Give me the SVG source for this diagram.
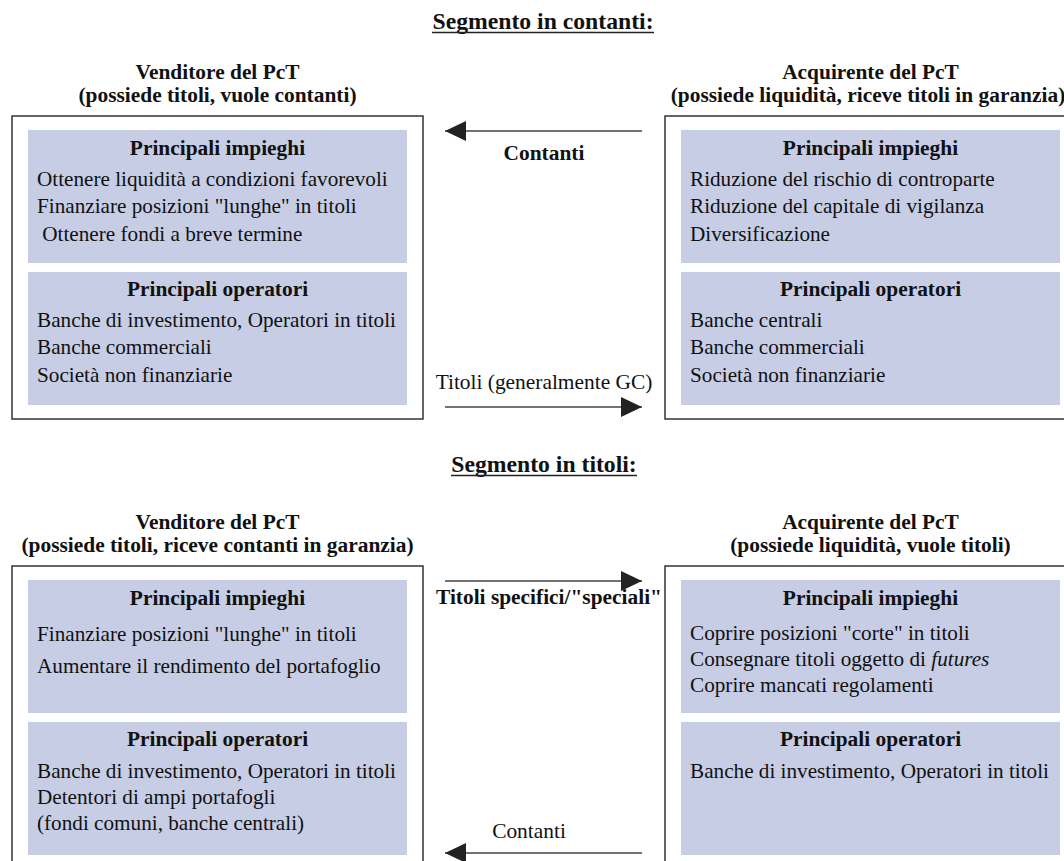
<svg xmlns="http://www.w3.org/2000/svg" width="1064" height="861" viewBox="0 0 1064 861">
  <style>
    text { font-family: "Liberation Serif", "Times New Roman", serif; fill: #111; }
    .title { font-size: 23.7px; font-weight: bold; text-anchor: middle; }
    .hdr { font-size: 21.4px; font-weight: bold; text-anchor: middle; }
    .body { font-size: 21.2px; }
    .lbl { font-size: 21.4px; text-anchor: middle; }
    .b { font-weight: bold; }
    .box { fill: #fff; stroke: #333; stroke-width: 1.5; }
    .panel { fill: #C6CDE5; }
    .rule { stroke: #222; stroke-width: 1.5; }
    .flow { stroke: #444; stroke-width: 1.5; fill: none; }
  </style>
  <defs>
    <marker id="head" markerUnits="userSpaceOnUse" markerWidth="22" markerHeight="20" refX="21" refY="10" orient="auto">
      <path d="M0,0 L21,10 L0,20 Z" fill="#222"/>
    </marker>
  </defs>
  <rect width="1064" height="861" fill="#fff"/>

  <!-- section titles -->
  <text class="title" x="543" y="29">Segmento in contanti:</text>
  <line class="rule" x1="432" y1="32.5" x2="654" y2="32.5"/>
  <text class="title" x="544" y="472">Segmento in titoli:</text>
  <line class="rule" x1="451" y1="475.5" x2="637" y2="475.5"/>

  <!-- cash segment: seller -->
  <g id="cash-seller">
    <text class="hdr" x="217.5" y="79">Venditore del PcT</text>
    <text class="hdr" x="217.5" y="102">(possiede titoli, vuole contanti)</text>
    <rect class="box" x="12" y="116" width="411" height="303"/>
    <rect class="panel" x="28" y="130" width="379" height="133"/>
    <text class="hdr" x="217.5" y="155">Principali impieghi</text>
    <text class="body" x="37" y="186">Ottenere liquidità a condizioni favorevoli</text>
    <text class="body" x="37" y="213">Finanziare posizioni "lunghe" in titoli</text>
    <text class="body" x="37" y="241" xml:space="preserve"> Ottenere fondi a breve termine</text>
    <rect class="panel" x="28" y="272" width="379" height="133"/>
    <text class="hdr" x="217.5" y="296">Principali operatori</text>
    <text class="body" x="37" y="327">Banche di investimento, Operatori in titoli</text>
    <text class="body" x="37" y="354">Banche commerciali</text>
    <text class="body" x="37" y="382">Società non finanziarie</text>
  </g>

  <!-- cash segment: buyer -->
  <g id="cash-buyer">
    <text class="hdr" x="870.5" y="79">Acquirente del PcT</text>
    <text class="hdr" x="868" y="102">(possiede liquidità, riceve titoli in garanzia)</text>
    <rect class="box" x="665" y="116" width="411" height="303"/>
    <rect class="panel" x="681" y="130" width="379" height="133"/>
    <text class="hdr" x="870.5" y="155">Principali impieghi</text>
    <text class="body" x="690" y="186">Riduzione del rischio di controparte</text>
    <text class="body" x="690" y="213">Riduzione del capitale di vigilanza</text>
    <text class="body" x="690" y="241">Diversificazione</text>
    <rect class="panel" x="681" y="272" width="379" height="133"/>
    <text class="hdr" x="870.5" y="296">Principali operatori</text>
    <text class="body" x="690" y="327">Banche centrali</text>
    <text class="body" x="690" y="354">Banche commerciali</text>
    <text class="body" x="690" y="382">Società non finanziarie</text>
  </g>

  <!-- securities segment: seller -->
  <g id="sec-seller">
    <text class="hdr" x="217.5" y="529">Venditore del PcT</text>
    <text class="hdr" x="217.5" y="552">(possiede titoli, riceve contanti in garanzia)</text>
    <rect class="box" x="12" y="566" width="411" height="303"/>
    <rect class="panel" x="28" y="580" width="379" height="133"/>
    <text class="hdr" x="217.5" y="605">Principali impieghi</text>
    <text class="body" x="37" y="641">Finanziare posizioni "lunghe" in titoli</text>
    <text class="body" x="37" y="673">Aumentare il rendimento del portafoglio</text>
    <rect class="panel" x="28" y="722" width="379" height="133"/>
    <text class="hdr" x="217.5" y="746">Principali operatori</text>
    <text class="body" x="37" y="778">Banche di investimento, Operatori in titoli</text>
    <text class="body" x="37" y="804">Detentori di ampi portafogli</text>
    <text class="body" x="37" y="830">(fondi comuni, banche centrali)</text>
  </g>

  <!-- securities segment: buyer -->
  <g id="sec-buyer">
    <text class="hdr" x="870.5" y="529">Acquirente del PcT</text>
    <text class="hdr" x="870.5" y="552">(possiede liquidità, vuole titoli)</text>
    <rect class="box" x="665" y="566" width="411" height="303"/>
    <rect class="panel" x="681" y="580" width="379" height="133"/>
    <text class="hdr" x="870.5" y="605">Principali impieghi</text>
    <text class="body" x="690" y="640">Coprire posizioni "corte" in titoli</text>
    <text class="body" x="690" y="666">Consegnare titoli oggetto di <tspan font-style="italic">futures</tspan></text>
    <text class="body" x="690" y="692">Coprire mancati regolamenti</text>
    <rect class="panel" x="681" y="722" width="379" height="133"/>
    <text class="hdr" x="870.5" y="746">Principali operatori</text>
    <text class="body" x="690" y="778">Banche di investimento, Operatori in titoli</text>
  </g>

  <!-- flows between counterparties -->
  <g id="connectors">
    <line class="flow" x1="642" y1="131" x2="445" y2="131" marker-end="url(#head)"/>
    <text class="lbl b" x="544" y="160">Contanti</text>
    <text class="lbl" x="544" y="389">Titoli (generalmente GC)</text>
    <line class="flow" x1="445" y1="407" x2="642" y2="407" marker-end="url(#head)"/>

    <line class="flow" x1="445" y1="581" x2="642" y2="581" marker-end="url(#head)"/>
    <text class="lbl b" x="549" y="604">Titoli specifici/"speciali"</text>
    <text class="lbl" x="529" y="838">Contanti</text>
    <line class="flow" x1="642" y1="853" x2="445" y2="853" marker-end="url(#head)"/>
  </g>
</svg>
